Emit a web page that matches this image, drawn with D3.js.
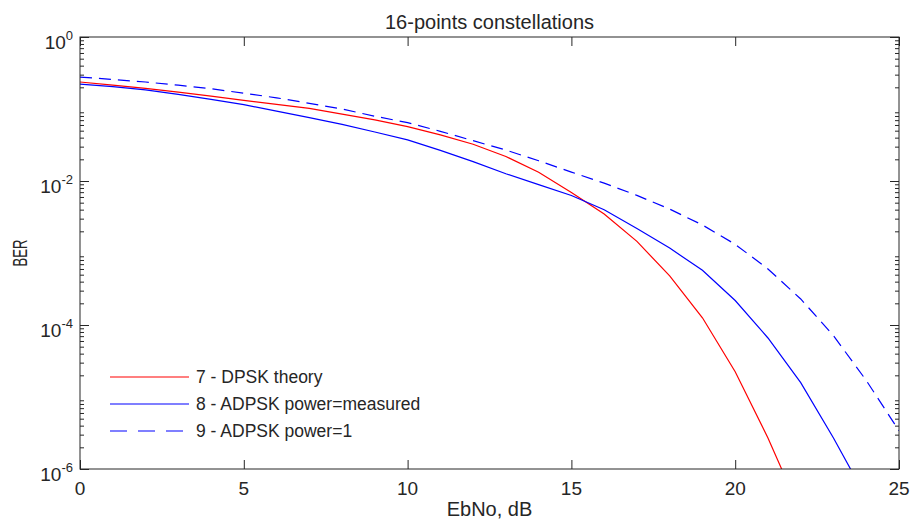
<!DOCTYPE html>
<html>
<head>
<meta charset="utf-8">
<script src="https://cdn.jsdelivr.net/npm/d3@7"></script>
<style>
  body { margin: 0; background: #fff; }
  text { font-family: "Liberation Sans", Arial, sans-serif; fill: #262626; }
</style>
</head>
<body>
<div id="chart"></div>
<script>
var WIDTH = 914, HEIGHT = 525;
var margin = {left: 80, right: 15, top: 37, bottom: 56};

// EbNo values, dB
var ebno = [0, 1, 2, 3, 4, 5, 6, 7, 8, 9, 10, 11, 12, 13, 14, 15, 16, 17, 18, 19, 20, 21, 22, 23, 24, 25];
// 7 - DPSK theory
var berDpsk = [0.237, 0.214, 0.193, 0.172, 0.151, 0.132, 0.116, 0.102, 0.0851, 0.0708, 0.0569, 0.0437, 0.0324,
               0.0219, 0.0132, 0.0069, 0.00347, 0.00145, 4.8e-4, 1.26e-4, 2.24e-5, 2.7e-6, 2.5e-7, null, null, null];
// 8 - ADPSK power=measured
var berMeasured = [0.222, 0.204, 0.184, 0.160, 0.136, 0.115, 0.0933, 0.0759, 0.061, 0.0479, 0.0372, 0.0266, 0.0186,
                   0.0126, 0.0089, 0.0063, 0.00398, 0.00219, 0.00117, 5.75e-4, 2.19e-4, 6.6e-5, 1.58e-5, 2.7e-6, 4e-7, null];
// 9 - ADPSK power=1
var berPower1 = [0.278, 0.257, 0.237, 0.214, 0.191, 0.166, 0.143, 0.120, 0.100, 0.0794, 0.0646, 0.049, 0.0363,
                 0.0269, 0.0191, 0.0133, 0.00933, 0.00631, 0.00407, 0.00245, 0.00132, 6.0e-4, 2.3e-4, 7.1e-5, 1.7e-5, 3.4e-6];

var xTicks = [0, 5, 10, 15, 20, 25];
var yTicks = [1, 1e-2, 1e-4, 1e-6];
var yExponents = ['0', '-2', '-4', '-6'];

var series = [
    {name: '7 - DPSK theory', values: berDpsk, color: '#ff0000', dash: null},
    {name: '8 - ADPSK power=measured', values: berMeasured, color: '#0000ff', dash: null},
    {name: '9 - ADPSK power=1', values: berPower1, color: '#0000ff', dash: '12,7'}
];

var svg = d3.select('#chart')
    .append('svg')
    .attr('width', WIDTH)
    .attr('height', HEIGHT);

var x = d3.scaleLinear().domain([0, 25]).range([margin.left, WIDTH - margin.right]);
var y = d3.scaleLog().domain([1e-6, 1]).range([HEIGHT - margin.bottom, margin.top]);

var x0 = x.range()[0], x1 = x.range()[1];
var yB = y.range()[0], yT = y.range()[1];

svg.append('clipPath').attr('id', 'plotClip')
    .append('rect')
    .attr('x', x0).attr('y', yT)
    .attr('width', x1 - x0).attr('height', yB - yT);

//lines
var line = d3.line()
    .defined(function(d) { return d[1] != null; })
    .x(function(d) { return x(d[0]); })
    .y(function(d) { return y(d[1]); });

var lineGroup = svg.append('g').attr('clip-path', 'url(#plotClip)');
series.forEach(function(s) {
    var pts = ebno.map(function(e, i) { return [e, s.values[i]]; });
    lineGroup.append('path')
        .datum(pts)
        .attr('d', line)
        .attr('fill', 'none')
        .attr('stroke', s.color)
        .attr('stroke-width', 1.2)
        .attr('stroke-dasharray', s.dash);
});

//axes: ticks point inwards on all four sides
var axisColor = '#262626';
function styleAxis(g) {
    g.select('.domain').remove();
    g.selectAll('line').attr('stroke', axisColor);
    g.selectAll('text').remove();
}

svg.append('g').attr('transform', 'translate(0,' + yB + ')')
    .call(d3.axisBottom(x).tickValues(xTicks).tickSize(-9)).call(styleAxis);
svg.append('g').attr('transform', 'translate(0,' + yT + ')')
    .call(d3.axisTop(x).tickValues(xTicks).tickSize(-9)).call(styleAxis);

var minorTicks = [];
for (var p = -6; p < 0; p++) {
    for (var m = 2; m <= 9; m++) minorTicks.push(m * Math.pow(10, p));
}
svg.append('g').attr('transform', 'translate(' + x0 + ',0)')
    .call(d3.axisLeft(y).tickValues(yTicks).tickSize(-9)).call(styleAxis);
svg.append('g').attr('transform', 'translate(' + x1 + ',0)')
    .call(d3.axisRight(y).tickValues(yTicks).tickSize(-9)).call(styleAxis);
svg.append('g').attr('transform', 'translate(' + x0 + ',0)')
    .call(d3.axisLeft(y).tickValues(minorTicks).tickSize(-4)).call(styleAxis);
svg.append('g').attr('transform', 'translate(' + x1 + ',0)')
    .call(d3.axisRight(y).tickValues(minorTicks).tickSize(-4)).call(styleAxis);

//box
svg.append('rect')
    .attr('x', x0).attr('y', yT)
    .attr('width', x1 - x0).attr('height', yB - yT)
    .attr('fill', 'none')
    .attr('stroke', axisColor)
    .attr('stroke-width', 1);

//tick labels
svg.append('g').selectAll('text')
    .data(xTicks)
    .enter().append('text')
    .attr('x', function(d) { return x(d); })
    .attr('y', yB + 26)
    .attr('text-anchor', 'middle')
    .style('font-size', '19px')
    .text(function(d) { return d; });

var yLab = svg.append('g').selectAll('text')
    .data(yTicks)
    .enter().append('text')
    .attr('x', 73)
    .attr('y', function(d) { return y(d) + 12; })
    .attr('text-anchor', 'end')
    .style('font-size', '19px');
yLab.append('tspan').text('10');
yLab.append('tspan')
    .attr('dy', -9)
    .style('font-size', '13px')
    .text(function(d, i) { return yExponents[i]; });

//title and axis labels
svg.append('text')
    .attr('x', (x0 + x1) / 2)
    .attr('y', 29)
    .attr('text-anchor', 'middle')
    .style('font-size', '20px')
    .text('16-points constellations');

svg.append('text')
    .attr('x', (x0 + x1) / 2)
    .attr('y', 516)
    .attr('text-anchor', 'middle')
    .style('font-size', '20px')
    .text('EbNo, dB');

svg.append('text')
    .attr('transform', 'translate(27,' + ((yT + yB) / 2) + ') rotate(-90)')
    .attr('text-anchor', 'middle')
    .style('font-size', '20px')
    .attr('textLength', 27)
    .attr('lengthAdjust', 'spacingAndGlyphs')
    .text('BER');

//legend
var legend = svg.append('g').attr('transform', 'translate(110,377)');
series.forEach(function(s, i) {
    var row = legend.append('g').attr('transform', 'translate(0,' + (i * 27) + ')');
    row.append('line')
        .attr('x1', 0).attr('x2', 79)
        .attr('stroke', s.color)
        .attr('stroke-width', 1.2)
        .attr('stroke-dasharray', s.dash ? '17,11' : null);
    row.append('text')
        .attr('x', 86)
        .attr('y', 6)
        .style('font-size', '17.5px')
        .text(s.name);
});
</script>
</body>
</html>
